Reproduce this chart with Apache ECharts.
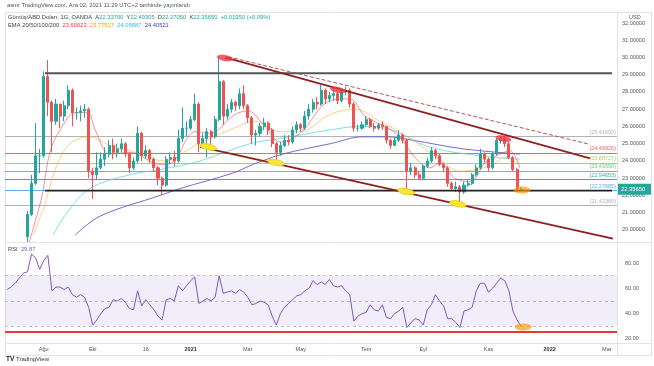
<!DOCTYPE html>
<html><head><meta charset="utf-8">
<script src="https://cdn.jsdelivr.net/npm/echarts@6/dist/echarts.min.js"></script>
<style>html,body{margin:0;padding:0;background:#fff}#c{width:654px;height:366px}</style>
</head><body><div id="c"></div>
<script>
// ---------- DATA ----------
const SLOTS = 150;            // 3-trading-day slots across the visible time range
const candleStart = 5;        // first slot holding a candle
// [open, close, low, high] per slot, slots 5..126
const candles = [
[19.6,20.9,19.3,21.1],[20.9,22.7,20.8,23.2],[22.7,24.3,22.6,26.2],[24.3,24.3,23.3,24.7],[24.3,28.9,24.2,29.2],
[28.9,27.4,26.6,29.85],[27.4,26.3,24.5,27.5],[26.3,27.3,26.1,27.6],[27.3,26.6,25.9,27.3],[26.6,27.2,26.3,27.5],
[27.2,28.1,27.0,28.4],[28.1,26.8,26.0,28.2],[26.8,26.8,26.4,27.1],[26.8,26.9,26.3,27.2],[26.9,27.0,26.5,27.3],
[27.0,23.4,23.0,27.1],[23.4,23.2,21.8,23.6],[23.2,23.6,22.9,24.5],[23.6,24.1,23.5,24.5],[24.1,24.4,23.7,24.8],
[24.4,24.9,24.2,25.2],[24.9,24.5,24.1,25.3],[24.5,24.7,24.2,25.0],[24.7,25.0,24.5,25.3],[25.0,24.4,24.2,25.1],
[24.4,23.6,23.3,24.5],[23.6,24.0,23.5,24.2],[24.0,25.6,23.9,26.0],[25.6,24.3,24.0,25.7],[24.3,24.6,24.1,24.9],
[24.6,24.1,23.9,24.7],[24.1,23.6,23.4,24.2],[23.6,23.0,22.6,23.7],[23.0,22.6,22.0,23.1],[22.6,24.1,22.5,24.3],
[24.1,24.2,23.8,24.5],[24.2,24.0,23.7,24.6],[24.0,25.3,23.9,25.8],[25.3,25.9,25.1,27.1],[25.9,25.9,25.4,26.3],
[25.9,26.4,25.8,26.6],[26.4,27.3,26.3,27.9],[27.3,25.0,24.5,27.4],[25.0,25.3,24.8,25.6],[25.3,25.7,24.2,25.9],
[25.7,25.4,24.9,25.8],[25.4,26.4,25.3,26.6],[26.4,28.6,26.3,30.1],[28.6,26.6,26.1,28.7],[26.6,27.0,26.4,27.3],
[27.0,27.4,26.8,27.6],[27.4,27.2,26.9,27.5],[27.2,27.9,27.0,28.2],[27.9,27.2,27.0,28.4],[27.2,26.5,26.2,27.3],
[26.5,25.5,25.0,26.6],[25.5,25.6,24.9,25.8],[25.6,26.0,25.4,26.2],[26.0,26.2,25.8,26.5],[26.2,25.8,25.5,26.3],
[25.8,25.0,24.8,25.9],[25.0,24.5,24.0,25.1],[24.5,24.9,24.3,25.1],[24.9,25.2,24.8,25.5],[25.2,25.1,24.9,25.5],
[25.1,25.8,25.0,26.0],[25.8,26.1,25.6,26.3],[26.1,25.9,25.7,26.2],[25.9,26.6,25.8,26.9],[26.6,27.0,26.4,27.3],
[27.0,27.4,26.8,27.6],[27.4,27.3,27.0,27.7],[27.3,28.1,27.2,28.4],[28.1,27.6,27.3,28.2],[27.6,27.8,27.4,28.0],
[27.8,27.9,27.5,28.3],[27.9,27.5,27.3,28.0],[27.5,28.0,27.4,28.2],[28.0,28.1,27.8,28.3],[28.1,27.3,27.1,28.2],
[27.3,25.9,25.7,27.4],[25.9,25.9,25.7,26.1],[25.9,26.1,25.8,26.3],[26.1,26.4,26.0,26.6],[26.4,26.0,25.9,26.5],
[26.0,25.9,25.7,26.2],[25.9,26.1,25.8,26.2],[26.1,26.0,25.8,26.3],[26.0,25.2,25.0,26.0],[25.2,24.9,24.7,25.3],
[24.9,25.2,24.9,25.4],[25.2,25.5,25.1,25.8],[25.5,25.2,25.0,25.6],[25.2,23.4,22.3,25.3],[23.4,23.6,23.2,23.9],
[23.6,23.2,23.0,23.7],[23.2,23.0,22.9,23.4],[23.0,23.7,22.9,23.8],[23.7,24.0,23.6,24.2],[24.0,24.6,23.9,24.8],
[24.6,24.3,24.1,24.7],[24.3,23.8,23.7,24.4],[23.8,23.6,23.4,23.9],[23.6,22.7,22.5,23.7],[22.7,22.4,22.3,22.8],
[22.4,22.5,22.2,22.8],[22.5,22.2,21.5,22.6],[22.2,22.6,22.1,22.8],[22.6,22.7,22.5,22.9],[22.7,23.2,22.6,23.3],
[23.2,23.6,23.1,23.8],[23.6,24.4,23.5,24.7],[24.4,24.1,23.9,24.5],[24.1,23.6,23.4,24.2],[23.6,24.4,23.5,24.5],
[24.4,25.2,24.3,25.3],[25.2,25.3,25.0,25.4],[25.3,25.0,24.8,25.4],[25.0,24.2,24.1,25.1],[24.2,23.5,23.4,24.3],
[23.5,22.34,22.2,23.6],[22.337,22.3565,22.2705,22.49305]
];
// RSI per slot, slots 0..126
const rsi = [
59,61,64,68,72,73,87,84,75,82,86,58,61,61,59,61,55,53,55,53,
45,31,35,40,44,45,51,50,52,49,44,43,58,46,51,47,43,38,35,51,
52,50,62,58,62,66,69,48,50,52,50,53,70,56,57,58,56,59,57,53,
47,48,50,49,47,38,31,40,45,48,51,54,55,58,60,66,63,65,63,67,
62,61,62,58,55,34,38,40,41,47,43,42,47,37,36,40,42,45,29,33,
36,35,31,43,47,55,50,46,36,36,33,29,42,43,45,58,64,64,57,60,
64,68,66,58,42,35,29.87
];
// EMA readings [slot, value]
const ema20 = [[5.1,19.0],[6.9,20.5],[8.6,22.0],[10.5,24.5],[13.0,25.8],[16.7,26.8],[19.8,26.8],[21.6,25.8],[25.2,24.4],[30.1,24.5],[37.5,23.8],[40.4,23.9],[46.1,25.7],[49.7,25.6],[55.9,26.7],[59.1,26.9],[63.2,26.0],[66.9,25.1],[71.8,25.6],[79.2,27.5],[84.1,27.6],[87.7,26.6],[92.6,26.0],[96.3,25.4],[100.0,24.2],[103.7,23.6],[106.1,23.9],[109.8,23.0],[113.5,22.8],[117.2,23.9],[120.8,24.4],[123.3,24.6],[125.7,23.6]];
const ema50 = [[6.4,19.7],[9.3,21.5],[11.8,23.5],[15.4,25.0],[20.3,25.4],[25.2,24.9],[30.1,24.6],[38.7,24.0],[46.1,24.9],[54.6,25.8],[60.8,26.3],[66.9,25.7],[71.8,25.7],[79.2,26.7],[85.3,27.0],[91.4,26.3],[98.8,25.3],[106.1,24.1],[111.0,23.4],[118.4,23.7],[122.1,24.2],[125.7,23.8]];
const ema100 = [[11.3,19.7],[14.7,21.0],[20.3,22.4],[30.1,23.2],[37.5,23.5],[47.3,24.0],[59.5,25.0],[66.9,25.3],[79.2,25.8],[86.5,26.0],[92.6,25.9],[103.7,24.8],[115.9,24.3],[125.7,24.1]];
const ema200 = [[16.7,19.7],[22.8,20.8],[37.5,22.0],[42.4,22.4],[55.4,23.3],[60.3,23.8],[67.6,24.4],[79.2,25.0],[87.2,25.4],[93.1,25.4],[99.5,25.2],[111.8,24.7],[125.7,24.4]];
// horizontal levels and their labels
const levels = [25.41, 24.46926, 23.88727, 23.4169, 22.94653, 22.27685, 21.4238];
const levelLabels = ['(25.41000)','(24.46926)','(23.88727)','(23.41690)','(22.94653)','(22.27685)','(21.42380)'];
// drawn lines [slot, price]
const boxTop = [[9.3, 29.08],[148.3, 29.08]];
const boxBottom = [[9.3, 22.27685],[148.3, 22.27685]];
const upperTrend = [[53.4, 30.0],[142.9, 24.15]];
const upperDashed = [[54.2, 30.04],[142.9, 24.96]];
const lowerTrend = [[47.3, 24.82],[148.5, 19.5]];
// highlight markers [slot, price, kind]
const highlights = [[53.4,29.97,'red'],[81.1,28.12,'red'],[121.6,25.30,'red'],[49.3,24.81,'yellow'],[65.9,23.91,'yellow'],[97.8,22.23,'yellow'],[110.5,21.51,'yellow'],[126.2,22.32,'orange']];
const rsiHighlights = [[126.5,29.5,'orange']];
// RSI guide levels
const rsiBand = [30, 70];
const rsiGuides = [70, 50, 30];
const rsiRedLevel = 25.7;
// axis ticks
const priceTicks = [20,21,22,23,24,25,26,27,28,29,30,31,32];
const rsiTicks = [20,40,60,80];
const xTickSlots = [9,21,34,45,59,72,88,102,118,133,147];
const xTickLabels = ['Ağu','Eki','16','2021','Mar','May','Tem','Eyl','Kas','2022','Mar'];
// legend values
const lastOHLC = [22.33700, 22.49305, 22.27050, 22.35650];
const lastChange = [0.01950, 0.09];
const emaLast = [23.60023, 23.77517, 24.09887, 24.40521];
const rsiLast = 29.87;

// ---------- BUILD ----------
const categories = Array.from({length: SLOTS}, (_, i) => String(i));
const candleData = Array(candleStart).fill('-').concat(candles);
const tickMap = {};
xTickSlots.forEach((s, k) => tickMap[s] = xTickLabels[k]);
const FONT = 'Liberation Sans, Arial, sans-serif';
const levelColors = ['#a7aab3','#ef5350','#9ccc65','#66bb6a','#26a69a','#42a5f5','#a7aab3'];
const hlStyle = {
  red: {fill:'rgba(242,54,69,0.8)', stroke:null, rx:8, ry:3, rot:-0.2},
  yellow: {fill:'#f7e733', stroke:'#d9c200', rx:8.5, ry:3, rot:-0.2},
  orange: {fill:'rgba(255,152,0,0.65)', stroke:null, rx:8.5, ry:3.5, rot:0}
};
const highlightsKinds = {hl: highlights.map(h => h[2]), hlr: rsiHighlights.map(h => h[2])};
function ellipseRender(params, api) {
  const p = api.coord([api.value(0), api.value(1)]);
  const st = hlStyle[highlightsKinds[params.seriesName][params.dataIndex]];
  return {type:'ellipse', x:p[0], y:p[1], rotation:st.rot,
    shape:{cx:0, cy:0, rx:st.rx, ry:st.ry},
    style:{fill:st.fill, stroke:st.stroke, lineWidth:0.6}};
}

const lineSeries = (name, data, color, width, type, opacity, z) => ({
  type:'line', name, xAxisIndex:2, yAxisIndex:0, data, symbol:'none', silent:true,
  lineStyle:{color, width, type: type || 'solid', opacity: opacity == null ? 1 : opacity},
  animation:false, z: z || 6
});
const emaSeries = (name, data, color, opacity) => ({
  type:'line', name, xAxisIndex:2, yAxisIndex:0, data, symbol:'none', silent:true, smooth:0.35,
  lineStyle:{color, width:1, opacity}, animation:false, z:1
});

const levelMarks = levels.map((v, k) => ({
  yAxis: v, name: levelLabels[k],
  lineStyle:{color: levelColors[k], width:1, type:'solid', opacity:0.9},
  label:{show:true, position:'insideEndTop', formatter:'{b}', color: levelColors[k], fontSize:5.5, fontFamily:FONT, distance:[1,1]}
}));

const option = {
  animation:false,
  backgroundColor:'#fff',
  grid:[
    {left:5, right:37, top:13, height:229},
    {left:5, right:37, top:243, height:100}
  ],
  xAxis:[
    {type:'category', gridIndex:0, data:categories, show:false},
    {type:'category', gridIndex:1, data:categories, axisLine:{show:false}, axisTick:{show:false}, splitLine:{show:false},
     axisLabel:{margin:3, fontSize:5.5, fontFamily:FONT, color:'#555',
       interval:(idx) => tickMap[idx] !== undefined,
       formatter:(val, idx) => { const t = tickMap[idx]; if (t === undefined) return ''; return /^\d{4}$/.test(t) ? '{b|' + t + '}' : t; },
       rich:{b:{fontWeight:'bold', fontSize:5.5, color:'#333', fontFamily:FONT}}}},
    {type:'value', gridIndex:0, min:-0.5, max:SLOTS-0.5, show:false},
    {type:'value', gridIndex:1, min:-0.5, max:SLOTS-0.5, show:false}
  ],
  yAxis:[
    {type:'value', gridIndex:0, position:'right', min:19.3, max:32.58, scale:true,
     axisLine:{show:false}, axisTick:{show:false}, splitLine:{show:false},
     axisLabel:{customValues:priceTicks, formatter:(v) => v.toFixed(5), fontSize:5.5, fontFamily:FONT, color:'#555', margin:5}},
    {type:'value', gridIndex:1, position:'right', min:16.8, max:95.8,
     axisLine:{show:false}, axisTick:{show:false}, splitLine:{show:false},
     axisLabel:{customValues:rsiTicks, formatter:(v) => v.toFixed(2), fontSize:5.5, fontFamily:FONT, color:'#555', margin:8}}
  ],
  series:[
    emaSeries('ema200', ema200, '#5b52c9', 0.85),
    emaSeries('ema100', ema100, '#4dd0e1', 0.7),
    emaSeries('ema50', ema50, '#ffa726', 0.55),
    emaSeries('ema20', ema20, '#f23645', 0.55),
    {type:'candlestick', name:'price', xAxisIndex:0, yAxisIndex:0, data:candleData, barWidth:'62%', silent:true, z:2,
     itemStyle:{color:'#26a69a', color0:'#ef5350', borderColor:'#26a69a', borderColor0:'#ef5350', borderWidth:1},
     markLine:{z:1, symbol:['none','none'], silent:true, animation:false, data:levelMarks}},
    lineSeries('boxTop', boxTop, '#555', 2),
    lineSeries('boxBottom', boxBottom, '#222', 1.6),
    lineSeries('upperTrend', upperTrend, '#8e2121', 1.8),
    lineSeries('upperDashed', upperDashed, '#a34a4a', 1, 'dashed', 0.9),
    lineSeries('lowerTrend', lowerTrend, '#8e2121', 1.8),
    {type:'custom', name:'hl', xAxisIndex:2, yAxisIndex:0, data:highlights.map(h => [h[0], h[1]]), renderItem:ellipseRender, silent:true, z:8, animation:false},
    {type:'line', name:'rsi', xAxisIndex:1, yAxisIndex:1, data:rsi, symbol:'none', silent:true,
     lineStyle:{color:'#7e57c2', width:1}, animation:false, z:3,
     markArea:{silent:true, itemStyle:{color:'rgba(126,87,194,0.10)'}, data:[[{yAxis:rsiBand[0]},{yAxis:rsiBand[1]}]]},
     markLine:{symbol:['none','none'], silent:true, label:{show:false}, animation:false,
       data: rsiGuides.map(v => ({yAxis:v, lineStyle:{color:'#9598a1', type:[3,3], width:1, opacity:0.6}}))
         .concat([{yAxis:rsiRedLevel, lineStyle:{color:'#e53935', type:'solid', width:2}}])}},
    {type:'custom', name:'hlr', xAxisIndex:3, yAxisIndex:1, data:rsiHighlights.map(h => [h[0], h[1]]), renderItem:ellipseRender, silent:true, z:8, animation:false}
  ],
  graphic:[
    {type:'line', shape:{x1:5, y1:12.5, x2:652, y2:12.5}, style:{stroke:'#e0e3eb', lineWidth:1}, silent:true},
    {type:'line', shape:{x1:5.5, y1:12, x2:5.5, y2:355}, style:{stroke:'#e0e3eb', lineWidth:1}, silent:true},
    {type:'line', shape:{x1:651.5, y1:12, x2:651.5, y2:355}, style:{stroke:'#e0e3eb', lineWidth:1}, silent:true},
    {type:'line', shape:{x1:617.5, y1:12, x2:617.5, y2:355}, style:{stroke:'#e0e3eb', lineWidth:1}, silent:true},
    {type:'line', shape:{x1:5, y1:242.5, x2:652, y2:242.5}, style:{stroke:'#e0e3eb', lineWidth:1}, silent:true},
    {type:'line', shape:{x1:5, y1:343.5, x2:652, y2:343.5}, style:{stroke:'#e0e3eb', lineWidth:1}, silent:true},
    {type:'line', shape:{x1:5, y1:355.5, x2:652, y2:355.5}, style:{stroke:'#e0e3eb', lineWidth:1}, silent:true},
    {type:'text', left:7, top:2, silent:true, style:{text:'asmr TradingView.com, Ara 02, 2021 11:29 UTC+2 tarihinde yayınlandı', fontSize:5.8, fontFamily:FONT, fill:'#555'}},
    {type:'text', left:8, top:14, silent:true, style:{
      text:'Gümüş/ABD Doları, 1G, OANDA  A{v|' + lastOHLC[0].toFixed(5) + '}  Y{v|' + lastOHLC[1].toFixed(5) + '}  D{v|' + lastOHLC[2].toFixed(5) + '}  K{v|' + lastOHLC[3].toFixed(5) + '}  {v|+' + lastChange[0].toFixed(5) + ' (+' + lastChange[1].toFixed(2) + '%)}',
      fontSize:5.8, fontFamily:FONT, fill:'#444',
      rich:{v:{fill:'#26a69a', fontSize:5.8, fontFamily:FONT}}}},
    {type:'text', left:8, top:22.5, silent:true, style:{
      text:'EMA 20/50/100/200  {a|' + emaLast[0].toFixed(5) + '}  {b|' + emaLast[1].toFixed(5) + '}  {c|' + emaLast[2].toFixed(5) + '}  {d|' + emaLast[3].toFixed(5) + '}',
      fontSize:5.8, fontFamily:FONT, fill:'#444',
      rich:{a:{fill:'#f23645', fontSize:5.8, fontFamily:FONT}, b:{fill:'#ff9800', fontSize:5.8, fontFamily:FONT}, c:{fill:'#26c6da', fontSize:5.8, fontFamily:FONT}, d:{fill:'#3f3fbf', fontSize:5.8, fontFamily:FONT}}}},
    {type:'text', left:8, top:246.5, silent:true, style:{
      text:'RSI  {v|' + rsiLast.toFixed(2) + '}', fontSize:5.8, fontFamily:FONT, fill:'#444',
      rich:{v:{fill:'#7e57c2', fontSize:5.8, fontFamily:FONT}}}},
    {type:'text', left:629, top:14, silent:true, style:{text:'USD', fontSize:5.5, fontFamily:FONT, fill:'#555'}},
    {type:'text', left:6, top:356, silent:true, style:{text:'{b|TV} TradingView', fontSize:6, fontFamily:FONT, fill:'#333',
      rich:{b:{fontWeight:'bold', fontSize:6.5, fill:'#131722', fontFamily:FONT}}}}
  ]
};
const chart = echarts.init(document.getElementById('c'));
chart.setOption(option);
// current price tag on the price scale, placed through the price axis
const py = chart.convertToPixel({yAxisIndex:0}, lastOHLC[3]);
const gr = option.graphic.slice();
gr.push({type:'rect', shape:{x:618, y:py-5.5, width:33, height:11}, style:{fill:'#26a69a'}, silent:true, z:50});
gr.push({type:'text', x:621, y:py, silent:true, z:51, style:{text:lastOHLC[3].toFixed(5), fontSize:5.8, fontFamily:FONT, fill:'#fff', verticalAlign:'middle'}});
chart.setOption({graphic: gr});
</script>
</body></html>
